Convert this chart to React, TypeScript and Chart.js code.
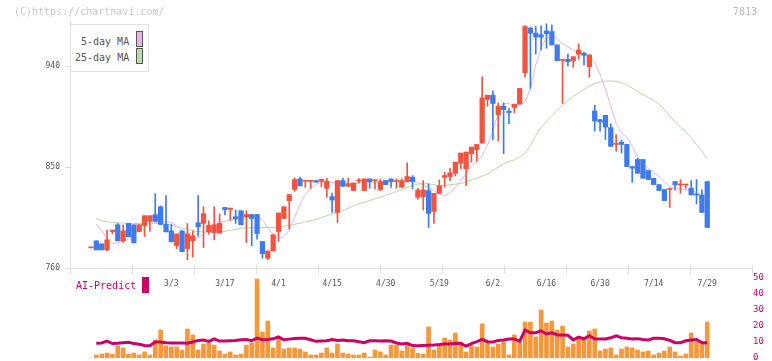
import React, { useEffect, useRef } from "react";
import { Chart, registerables } from "chart.js";
Chart.register(...registerables);

const MONO = '"DejaVu Sans Mono", monospace';
const RED = "#f2543f";
const BLUE = "#3f7bea";
const PINK = "#e8b2ea";
const GREEN = "#b3dba4";
const CRIMSON = "#cc0066";
const ORANGE = "#f4983c";
const AXIS = "#dddddd";

const X_MIN = -3.91;
const X_MAX = 123.35;

const tickIndex = [15, 25, 35, 45, 55, 65, 75, 85, 95, 105, 115];
const tickLabels = ["3/3", "3/17", "4/1", "4/15", "4/30", "5/19", "6/2", "6/16", "6/30", "7/14", "7/29"];
const priceTicks = [760, 850, 940];

const opens = [
  778, 784.2, 781.5, 776.1, 792.5, 798.5, 784.2, 799.7, 798.5, 792.5,
  797.9, 801.5, 807.5, 814.6, 799.1, 793.1, 780, 793.1, 777.3, 784.2,
  800.3, 799.7, 792.2, 791.6, 791.1, 814, 812.2, 805.7, 811, 805.4,
  807.7, 807.7, 783.6, 768.7, 775.2, 792.5, 804.1, 820, 829.9, 839.4,
  837.3, 837, 838, 837.3, 831, 823.6, 809.5, 837.9, 832.8, 829,
  837.5, 829, 839.4, 837.8, 829.9, 838, 839.4, 837, 831.9, 837,
  840.9, 823, 823.6, 829, 810.4, 826.5, 840.9, 841.5, 844.4, 853.4,
  848.4, 861.8, 865.4, 871.3, 910.2, 914, 896.7, 904.2, 899.7, 903,
  906, 934, 973.8, 969.3, 967.8, 971.3, 970.7, 958.8, 945, 946,
  944.7, 950.5, 951.4, 939.4, 900, 892.3, 896.1, 885.1, 870.1, 872.2,
  870.1, 850.4, 856.7, 856.7, 846.9, 840, 834.3, 829.9, 830, 837,
  834, 834, 831, 826, 825.1, 837,
];
const highs = [
  778, 784.2, 781.5, 793.8, 793.8, 799.7, 798.5, 799.7, 798.5, 798.5,
  806.6, 806.6, 826.3, 815.3, 824.5, 799.1, 790.4, 793.1, 799.7, 793.1,
  824.5, 814.6, 802.1, 814.6, 808.1, 814, 813.4, 811.7, 811, 811,
  807.7, 807.7, 783.6, 775.2, 789.6, 809, 814.6, 825.4, 840.3, 841,
  837.9, 838, 838, 839.1, 840, 826.5, 837.9, 840, 840, 835.8,
  839.7, 839.4, 839.4, 838.5, 839.4, 838, 839.4, 839.4, 839.4, 853.8,
  842.4, 831, 837.9, 835, 826.5, 838.5, 845.3, 848.9, 854.3, 862.4,
  863.3, 867.7, 870.1, 930.4, 914, 917.9, 907.1, 907.1, 902.1, 906,
  920, 976, 974.7, 975.2, 975.8, 977.6, 976.7, 958.8, 945.4, 950.7,
  948.3, 959.7, 952.3, 949.9, 905, 892.3, 896.1, 888.5, 878.8, 874,
  870.1, 850.4, 857.9, 856.7, 846.9, 840, 834.3, 829.9, 831, 837,
  838.8, 834.6, 837.9, 838.8, 829.6, 837,
];
const lows = [
  778, 776.1, 776.1, 775.2, 790.7, 784.2, 782.7, 787.8, 782.4, 792.5,
  788, 792.5, 801.5, 798.8, 792.2, 783.3, 777.3, 774.6, 767.4, 769.9,
  788.4, 778.2, 790.2, 785, 791.1, 807.2, 802.5, 799.7, 798.5, 782.7,
  779.7, 785.7, 768.7, 767.4, 775.2, 783.6, 804.1, 794.7, 828.3, 833.2,
  831.9, 831, 836.4, 832.5, 823, 809.5, 800.6, 832.8, 832.8, 829,
  835.8, 829, 831, 830.5, 828.9, 834.3, 831.9, 831, 831.9, 836.4,
  830.5, 821, 811.7, 796.1, 799.7, 826.5, 831.9, 837.9, 842, 848.4,
  833.4, 854.3, 855, 871.3, 904.2, 874.4, 873.1, 861.8, 888.7, 898.2,
  906, 930, 920, 950.5, 954.3, 955.8, 958.8, 944.7, 906.6, 940,
  938.8, 946, 940.9, 930, 882, 882, 874.4, 868.4, 864.1, 862.5,
  850.4, 836.4, 844.4, 840, 838.8, 834.3, 829, 820, 814, 829.6,
  826.5, 831, 825.1, 817, 809.5, 796.1,
];
const closes = [
  778, 776.1, 776.1, 785.1, 793.8, 784.2, 793.1, 787.8, 782.4, 798.5,
  806.6, 806.6, 801.5, 798.8, 792.2, 783.3, 790.4, 774.6, 790.4, 788.7,
  796.7, 808.4, 798.2, 798.5, 799.7, 811.9, 813.4, 803.6, 798.5, 807.7,
  804.1, 790.7, 772.8, 775.2, 789.6, 809, 814.6, 825.4, 838.8, 833.2,
  837.9, 838, 836.4, 839.1, 837.3, 820.6, 837.9, 832.8, 835, 835.8,
  838.5, 839.4, 837, 838.3, 837, 834.3, 837, 837.8, 837.9, 841.5,
  837, 829.5, 829.6, 808.6, 826.5, 833.4, 842.4, 844.8, 854.3, 862.4,
  863.3, 867.7, 870.1, 911.6, 914, 906.6, 904.2, 901.2, 898.5, 906,
  920, 975.2, 969.3, 965.7, 965.7, 968.7, 958.8, 944.7, 945.4, 943.8,
  948.3, 954.3, 949.6, 949.9, 891, 890.1, 885.6, 868.4, 870.8, 870.1,
  850.4, 848.9, 844.4, 840, 838.8, 834.3, 829, 820, 830.8, 834,
  834.6, 834.6, 825.1, 825.1, 809.5, 796.1,
];
const ma5 = [
  null, 799.1, 793.1, 786.4, 782.1, 782.1, 783.7, 785.5, 789.1, 793.6,
  796.7, 799.1, 800.3, 801.6, 801.8, 800.3, 797.6, 793.6, 790.4, 786.9,
  786.5, 790, 795, 798, 800.6, 801.6, 803, 804.8, 805.8, 806.6,
  806.6, 806.1, 803, 795.8, 790, 786.9, 787.8, 794, 804.8, 816.9,
  825.4, 831.2, 834.3, 836.6, 837.5, 836, 836.1, 835.5, 835.5, 834.9,
  835.5, 836.4, 836.6, 836.4, 836.8, 837, 836.8, 837, 837, 837.5,
  838, 836.1, 833.9, 831.6, 829, 825.8, 824.5, 826.7, 831.6, 837.9,
  843.7, 851.3, 854.9, 860.3, 869.3, 882.7, 897.9, 906.4, 906.6, 904.2,
  905.5, 907.8, 920.3, 940.9, 956.1, 965.1, 966.9, 964.2, 959.7, 957,
  954.3, 951.6, 949.8, 948.1, 943.6, 932.8, 919.4, 904.2, 888.9, 880,
  876.4, 868.4, 859.4, 853.1, 848.7, 845.1, 841.5, 837, 832.5, 830.7,
  830.5, 829.8, 829.2, 827.2, 823.6, 821.5,
];
const ma25 = [
  null, 804.5, 802.1, 801.2, 800.6, 800.3, 800, 799.8, 799.7, 799.7,
  799.7, 799.7, 799.7, 799.4, 799.1, 798.1, 796.7, 795.6, 794.5, 793.1,
  792.4, 792.2, 792, 792, 792.2, 792.7, 793.6, 794.5, 795.4, 795.8,
  796, 796.1, 796.1, 796.1, 796.1, 796.3, 797.2, 798.1, 799, 799.8,
  801.2, 802.1, 803.4, 804.8, 806.6, 807.9, 809.3, 811, 813.3, 815.5,
  817.3, 818.7, 820, 821.8, 823.1, 824.9, 826.3, 828.1, 829.8, 831.9,
  833.4, 834.8, 835.2, 835, 834.3, 833.4, 833.4, 834.3, 834.8, 835.2,
  837, 838.4, 840.1, 841.9, 843.7, 846.9, 850, 852.7, 854.9, 856.3,
  858.9, 862.1, 869.3, 878.2, 884.9, 890.7, 895.7, 900.6, 905.1, 909.1,
  913.1, 915.8, 919, 922.1, 924.3, 925.7, 926.6, 926.6, 926.3, 925.2,
  923, 920.3, 917.6, 914.5, 911.8, 909.5, 906, 901.5, 895.2, 890.7,
  885.6, 881.3, 876.4, 870.1, 863.9, 857.2,
];
const volumes = [
  0, 1.9, 2.5, 3.1, 2.5, 7.5, 6.3, 2.5, 3.1, 1.9,
  3.8, 1.9, 11.3, 17.5, 7.5, 6.9, 6.9, 5, 18.1, 14.4,
  5, 8.8, 9.4, 8.1, 4.4, 2.5, 3.8, 1.9, 2.5, 8.1,
  9.4, 49.4, 16.3, 23.1, 6.3, 12.5, 5.6, 6.3, 6.3, 5.6,
  3.8, 1.9, 1.9, 3.1, 6.3, 3.1, 8.8, 3.1, 2.5, 1.9,
  1.9, 3.1, 0.6, 5, 3.8, 1.9, 8.1, 8.1, 4.4, 8.1,
  6.3, 2.9, 2.5, 19.4, 5, 7.5, 12.5, 11.3, 15.6, 10,
  3.8, 7.5, 6.9, 21.3, 10, 6.9, 8.8, 10, 1.9, 14.4,
  10, 22.5, 22.5, 13.1, 30, 21.9, 23.1, 17.5, 20, 6.9,
  8.8, 13.1, 11.3, 16.9, 18.1, 4.4, 5.6, 6.3, 1.9, 5.6,
  6.9, 6.3, 5, 3.8, 4.4, 1.9, 3.1, 4.4, 6.9, 3.8,
  1.3, 2.5, 15.6, 10, 8.8, 22.5,
];
const aiPredict = [
  null, 9.2, 9.4, 10.6, 9.0, 9.2, 9.6, 9.8, 9.0, 8.6,
  7.8, 7.6, 10.0, 10.0, 9.6, 9.4, 9.4, 9.4, 9.2, 10.0,
  11.0, 11.2, 10.4, 12.0, 10.6, 10.6, 10.8, 11.0, 11.4, 11.6,
  10.8, 12.4, 11.4, 11.6, 12.0, 13.2, 11.4, 11.8, 12.2, 12.3,
  12.3, 11.4, 10.4, 10.6, 10.8, 11.6, 11.0, 11.3, 10.8, 10.8,
  10.2, 9.6, 10.8, 10.8, 10.6, 10.8, 10.6, 9.4, 8.8, 9.2,
  7.8, 7.6, 7.8, 8.0, 8.1, 8.4, 8.8, 8.8, 9.2, 9.0,
  7.5, 9.0, 10.2, 11.6, 10.2, 10.0, 11.0, 11.2, 11.8, 11.9,
  10.6, 17.5, 15.8, 15.8, 17.0, 15.0, 15.8, 14.4, 14.4, 14.2,
  11.3, 13.0, 12.0, 13.9, 11.9, 11.9, 11.9, 12.6, 13.9, 12.7,
  12.4, 11.9, 12.1, 11.6, 11.3, 12.3, 12.3, 12.0, 11.0, 9.6,
  9.6, 10.8, 11.3, 11.6, 9.6, 9.6,
];

const abs = (left: number, top: number, extra: React.CSSProperties = {}): React.CSSProperties => ({
  position: "absolute",
  left,
  top,
  whiteSpace: "nowrap",
  font: `10px ${MONO}`,
  lineHeight: "12px",
  ...extra,
});

export default function App() {
  const priceRef = useRef<HTMLCanvasElement>(null);
  const volRef = useRef<HTMLCanvasElement>(null);

  useEffect(() => {
    const idx = opens.map((_, i) => i);
    const colors = idx.map((i) => (closes[i] >= opens[i] ? RED : BLUE));

    const axisTicks = {
      id: "axisTicks",
      afterDraw(chart: any) {
        const { ctx, chartArea } = chart;
        const { left, right, bottom } = chartArea;
        ctx.save();
        ctx.strokeStyle = AXIS;
        ctx.lineWidth = 1;
        for (let k = 0; k <= 11; k++) {
          const x = Math.round(left + ((right - left) * k) / 11) + 0.5;
          ctx.beginPath();
          ctx.moveTo(x, bottom - 3);
          ctx.lineTo(x, bottom + 6);
          ctx.stroke();
        }
        ctx.restore();
      },
    };

    const c1 = new Chart(priceRef.current as HTMLCanvasElement, {
      type: "bar",
      data: {
        datasets: [
          {
            type: "bar",
            label: "body",
            data: idx.map((i) => ({ x: i, y: [Math.min(opens[i], closes[i]), Math.max(opens[i], closes[i])] })),
            backgroundColor: colors,
            barThickness: 4.6,
            grouped: false,
            minBarLength: 1,
            order: 1,
          },
          {
            type: "bar",
            label: "wick",
            data: idx.map((i) => ({ x: i, y: [lows[i], highs[i]] })),
            backgroundColor: colors,
            barThickness: 1,
            grouped: false,
            order: 2,
          },
          {
            type: "line",
            label: "5-day MA",
            data: idx.map((i) => ({ x: i, y: ma5[i] })),
            borderColor: PINK,
            borderWidth: 1,
            pointRadius: 0,
            order: 3,
          },
          {
            type: "line",
            label: "25-day MA",
            data: idx.map((i) => ({ x: i, y: ma25[i] })),
            borderColor: GREEN,
            borderWidth: 1,
            pointRadius: 0,
            order: 4,
          },
        ] as any,
      },
      options: {
        responsive: false,
        animation: false,
        events: [],
        layout: { padding: { top: 21, right: 20, left: 0, bottom: 0 } },
        plugins: { legend: { display: false }, tooltip: { enabled: false } },
        scales: {
          x: {
            type: "linear",
            min: X_MIN,
            max: X_MAX,
            offset: false,
            grid: { display: false, drawTicks: false },
            border: { display: true, color: AXIS },
            ticks: {
              autoSkip: false,
              maxRotation: 0,
              font: { family: MONO, size: 8 },
              color: "#555555",
              padding: 11,
              callback: (_v: any, i: number) => tickLabels[i] ?? "",
            },
            afterBuildTicks: (s: any) => {
              s.ticks = tickIndex.map((v) => ({ value: v }));
            },
            afterFit: (s: any) => {
              s.height = 93;
            },
          },
          y: {
            type: "linear",
            position: "left",
            min: 760,
            max: 980.1,
            grid: { display: true, drawOnChartArea: false, drawTicks: true, tickLength: 5, color: AXIS },
            border: { display: true, color: AXIS },
            ticks: { font: { family: MONO, size: 8 }, color: "#555555", padding: 5 },
            afterBuildTicks: (s: any) => {
              s.ticks = priceTicks.map((v) => ({ value: v }));
            },
            afterFit: (s: any) => {
              s.width = 70;
            },
          },
        },
      } as any,
      plugins: [axisTicks],
    });

    const c2 = new Chart(volRef.current as HTMLCanvasElement, {
      type: "bar",
      data: {
        datasets: [
          {
            type: "line",
            label: "AI-Predict",
            data: idx.map((i) => ({ x: i, y: aiPredict[i] })),
            borderColor: CRIMSON,
            borderWidth: 3,
            pointRadius: 0,
            order: 0,
          },
          {
            type: "bar",
            label: "Volume",
            data: idx.map((i) => ({ x: i, y: volumes[i] })),
            backgroundColor: ORANGE,
            barThickness: 4,
            grouped: false,
            order: 1,
          },
        ] as any,
      },
      options: {
        responsive: false,
        animation: false,
        events: [],
        layout: { padding: { top: 278, right: 0, left: 70, bottom: 8 } },
        plugins: { legend: { display: false }, tooltip: { enabled: false } },
        scales: {
          x: { type: "linear", min: X_MIN, max: X_MAX, offset: false, display: false },
          y: {
            type: "linear",
            position: "right",
            min: 0,
            max: 50,
            grid: { display: false, drawTicks: false },
            border: { display: false },
            ticks: { stepSize: 10, font: { family: MONO, size: 9 }, color: CRIMSON, padding: 1 },
            afterFit: (s: any) => {
              s.width = 20;
            },
          },
        },
      } as any,
    });

    return () => {
      c1.destroy();
      c2.destroy();
    };
  }, []);

  return (
    <div style={{ position: "absolute", left: 0, top: 0, width: 772, height: 361, overflow: "hidden", background: "#ffffff" }}>
      <canvas ref={priceRef} width={772} height={361} style={{ position: "absolute", left: 0, top: 0, display: "block" }} />
      <canvas ref={volRef} width={772} height={366} style={{ position: "absolute", left: 0, top: 0, display: "block" }} />
      <div style={abs(14, 6, { color: "#c8c8c8" })}>(C)https://chartnavi.com/</div>
      <div style={abs(733, 6, { color: "#bbbbbb" })}>7813</div>
      <div
        style={{
          position: "absolute",
          left: 70,
          top: 24,
          width: 79,
          height: 48,
          border: `1px solid ${AXIS}`,
          background: "#ffffff",
          boxSizing: "border-box",
        }}
      />
      <div style={abs(81, 36, { color: "#555555" })}>5-day MA</div>
      <div style={abs(75, 51.5, { color: "#555555" })}>25-day MA</div>
      <div style={{ position: "absolute", left: 136, top: 31, width: 7, height: 16, background: PINK, border: "1px solid #555555", boxSizing: "border-box" }} />
      <div style={{ position: "absolute", left: 136, top: 48, width: 7, height: 16, background: GREEN, border: "1px solid #555555", boxSizing: "border-box" }} />
      <div style={abs(76, 280, { color: CRIMSON })}>AI-Predict</div>
      <div style={{ position: "absolute", left: 142, top: 277, width: 7, height: 16, background: CRIMSON }} />
    </div>
  );
}
